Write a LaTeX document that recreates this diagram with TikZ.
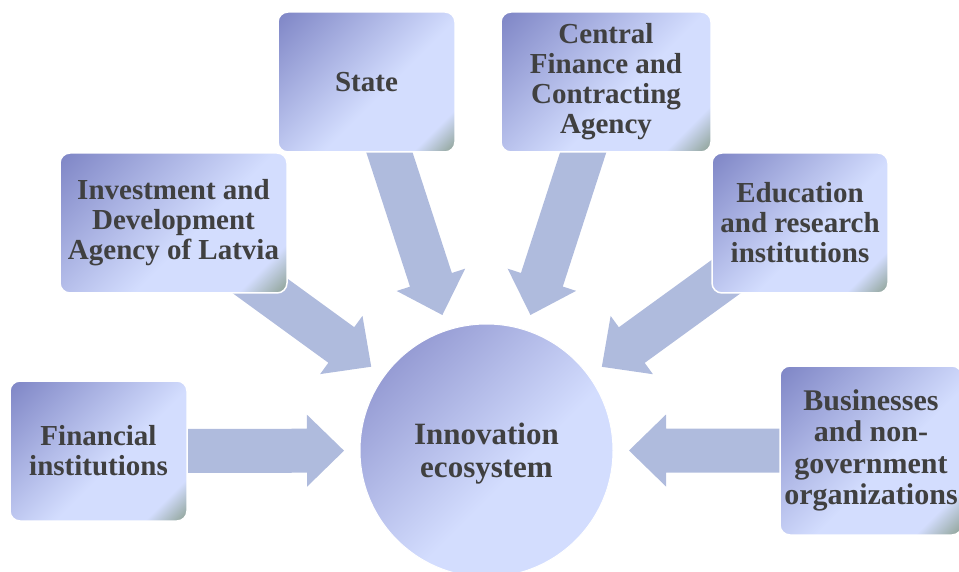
\documentclass[tikz,border=0pt]{standalone}
\usepackage{fontspec}
\setmainfont{Liberation Serif}
\usetikzlibrary{calc}

\definecolor{flowblue}{HTML}{AFBBDD}
\definecolor{inkgray}{HTML}{404040}
\definecolor{shadeA}{HTML}{7F86C6}
\definecolor{shadeC}{HTML}{D3DDFE}
\definecolor{shadeD}{HTML}{8FA397}
\definecolor{circA}{HTML}{969CD4}

% diagonal fills: dark top-left, light middle, grey-green corner
\pgfdeclarehorizontalshading{boxshade}{100bp}{color(0bp)=(shadeA); color(15bp)=(shadeA);
  color(56bp)=(shadeC); color(76bp)=(shadeC); color(85bp)=(shadeD); color(100bp)=(shadeD)}
\pgfdeclarehorizontalshading{hubshade}{100bp}{color(0bp)=(shadeA); color(25bp)=(circA);
  color(57bp)=(shadeC); color(100bp)=(shadeC)}

\pgfdeclarelayer{back}
\pgfsetlayers{back,main}

\tikzset{
  agent/.style={draw=white, line width=1.5pt, rounded corners=10pt,
    shading=boxshade, shading angle=-45, text=inkgray, align=center,
    inner sep=0pt, font=\bfseries\fontsize{29}{30}\selectfont},
  hub/.style={circle, draw=white, line width=1pt, shading=hubshade,
    shading angle=-45, text=inkgray, align=center, inner sep=0pt,
    minimum size=253pt, font=\bfseries\fontsize{31}{33}\selectfont},
  flow/.style={fill=flowblue, draw=none}
}

% block arrow from a box centre towards the hub, tip 142.5pt from the hub centre
\newcommand\flowarrow[2]{%
  \coordinate (fa-T) at ($(#2.center)!142.5pt!(#1.center)$);
  \coordinate (fa-B) at ($(fa-T)!37pt!(#1.center)$);
  \fill[flow] (fa-T)
    -- ($(fa-B)!36pt!90:(fa-T)$) -- ($(fa-B)!22pt!90:(fa-T)$)
    -- ($(#1.center)!22pt!90:(fa-T)$) -- ($(#1.center)!22pt!-90:(fa-T)$)
    -- ($(fa-B)!22pt!-90:(fa-T)$) -- ($(fa-B)!36pt!-90:(fa-T)$) -- cycle;
}

\begin{document}
\begin{tikzpicture}[x=1pt,y=1pt]
  \useasboundingbox (0,0) rectangle (959,-572);
  \clip (0,0) rectangle (959,-572);

  \node[hub] (hub) at (486.5,-450.5)
    {\raisebox{-4pt}[\height][\depth]{\begin{tabular}{@{}c@{}}Innovation\\ecosystem\end{tabular}}};

  \node[agent, minimum width=177pt, minimum height=140pt] (state) at (366.5,-82) {State};
  \node[agent, minimum width=210pt, minimum height=140pt] (cfca) at (606,-82)
    {Central\\Finance and\\Contracting\\Agency};
  \node[agent, minimum width=227pt, minimum height=140pt] (liaa) at (173.5,-223)
    {Investment and\\Development\\Agency of Latvia};
  \node[agent, minimum width=176pt, minimum height=140pt] (edu) at (800,-223)
    {Education\\and research\\institutions};
  \node[agent, minimum width=177pt, minimum height=140pt] (fin) at (98.5,-451)
    {Financial\\institutions};
  \node[agent, minimum width=182pt, minimum height=169pt,
    font=\bfseries\fontsize{30}{31.5}\selectfont] (biz) at (871,-450.5)
    {Businesses\\and non-\\government\\organizations};

  \begin{pgfonlayer}{back}
    \flowarrow{state}{hub}
    \flowarrow{cfca}{hub}
    \flowarrow{liaa}{hub}
    \flowarrow{edu}{hub}
    \flowarrow{fin}{hub}
    \flowarrow{biz}{hub}
  \end{pgfonlayer}
\end{tikzpicture}
\end{document}
